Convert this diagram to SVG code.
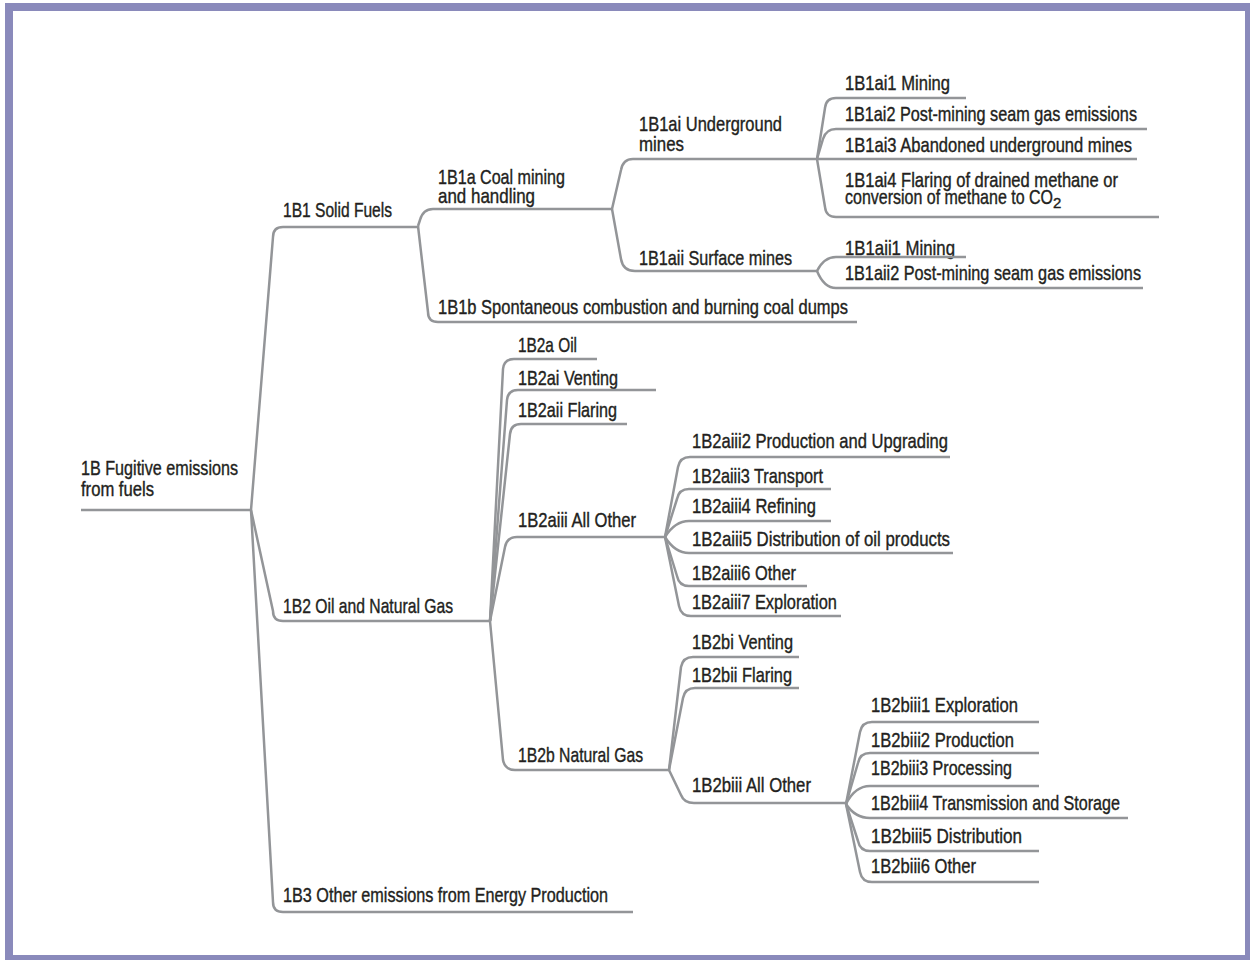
<svg xmlns="http://www.w3.org/2000/svg" width="1250" height="960" viewBox="0 0 1250 960">
<style>
.t{font-family:"Liberation Sans Narrow","Liberation Sans",sans-serif;font-size:21px;fill:#231f20;stroke:#231f20;stroke-width:0.4}
.u{fill:none;stroke:#939598;stroke-width:2.5;stroke-linecap:butt}
.c{fill:none;stroke:#939598;stroke-width:2.5;stroke-linejoin:round}
.s{font-size:15px}
</style>
<rect x="9" y="7" width="1240" height="952" fill="#ffffff" stroke="#8a8abb" stroke-width="8"/>
<g id="connectors">
<path class="c" d="M251,510 L273,237 Q273,227 283,227"/>
<path class="c" d="M251,510 L273,611 Q273,621 283,621"/>
<path class="c" d="M251,510 L273,902 Q273,912 283,912"/>
<path class="c" d="M418,226 L420,220 Q423,209 433,209"/>
<path class="c" d="M418,226 L428,312 Q428,322 438,322"/>
<path class="c" d="M612,209 L621,170 Q623,159 633,159"/>
<path class="c" d="M612,209 L621,259 Q623,271 635,271"/>
<path class="c" d="M817,159 L825,108 Q826,98 836,98"/>
<path class="c" d="M817,159 L823,139 Q826,129 836,129"/>
<path class="c" d="M817,159 L825,207 Q826,217 836,217"/>
<path class="c" d="M817,271 Q824,257 836,257"/>
<path class="c" d="M817,271 Q824,288 836,288"/>
<path class="c" d="M490,621 L503,369 Q504,359 514,359"/>
<path class="c" d="M490,621 L507,400 Q508,390 518,390"/>
<path class="c" d="M490,621 L510,434 Q511,424 521,424"/>
<path class="c" d="M490,621 L505,547 Q507,537 517,537"/>
<path class="c" d="M490,621 L503,760 Q505,770 515,770"/>
<path class="c" d="M665,537 L678,467 Q680,457 690,457"/>
<path class="c" d="M665,537 L677,499 Q679,489 689,489"/>
<path class="c" d="M665,537 Q675,521 689,521"/>
<path class="c" d="M665,537 Q675,553 689,553"/>
<path class="c" d="M665,537 L677,576 Q679,586 689,586"/>
<path class="c" d="M665,537 L679,606 Q681,616 691,616"/>
<path class="c" d="M669,770 L681,667 Q683,657 693,657"/>
<path class="c" d="M669,770 L683,698 Q685,688 695,688"/>
<path class="c" d="M669,770 L681,795 Q684,803 694,803"/>
<path class="c" d="M846,804 L860,732 Q862,722 872,722"/>
<path class="c" d="M846,804 L858,763 Q860,753 870,753"/>
<path class="c" d="M846,804 Q855,786 870,786"/>
<path class="c" d="M846,804 Q855,818 870,818"/>
<path class="c" d="M846,804 L858,841 Q860,851 870,851"/>
<path class="c" d="M846,804 L860,872 Q862,882 872,882"/>
</g>
<g id="n-1B">
<text class="t" x="81" y="475" textLength="157" lengthAdjust="spacingAndGlyphs">1B Fugitive emissions</text>
<text class="t" x="81" y="496" textLength="73" lengthAdjust="spacingAndGlyphs">from fuels</text>
<path class="u" d="M81,510 H251"/>
</g>
<g id="n-1B1">
<text class="t" x="283" y="217" textLength="109" lengthAdjust="spacingAndGlyphs">1B1 Solid Fuels</text>
<path class="u" d="M283,227 H418"/>
</g>
<g id="n-1B1a">
<text class="t" x="438" y="184" textLength="127" lengthAdjust="spacingAndGlyphs">1B1a Coal mining</text>
<text class="t" x="438" y="203" textLength="97" lengthAdjust="spacingAndGlyphs">and handling</text>
<path class="u" d="M433,209 H612"/>
</g>
<g id="n-1B1ai">
<text class="t" x="639" y="131" textLength="143" lengthAdjust="spacingAndGlyphs">1B1ai Underground</text>
<text class="t" x="639" y="151" textLength="45" lengthAdjust="spacingAndGlyphs">mines</text>
<path class="u" d="M633,159 H817"/>
</g>
<g id="n-1B1ai1">
<text class="t" x="845" y="90" textLength="105" lengthAdjust="spacingAndGlyphs">1B1ai1 Mining</text>
<path class="u" d="M836,98 H966"/>
</g>
<g id="n-1B1ai2">
<text class="t" x="845" y="121" textLength="292" lengthAdjust="spacingAndGlyphs">1B1ai2 Post-mining seam gas emissions</text>
<path class="u" d="M836,129 H1147"/>
</g>
<g id="n-1B1ai3">
<text class="t" x="845" y="152" textLength="287" lengthAdjust="spacingAndGlyphs">1B1ai3 Abandoned underground mines</text>
<path class="u" d="M817,159 H1137"/>
</g>
<g id="n-1B1ai4">
<text class="t" x="845" y="187" textLength="273" lengthAdjust="spacingAndGlyphs">1B1ai4 Flaring of drained methane or</text>
<text class="t" x="845" y="204"><tspan textLength="208" lengthAdjust="spacingAndGlyphs">conversion of methane to CO</tspan><tspan class="s" dy="4">2</tspan></text>
<path class="u" d="M836,217 H1159"/>
</g>
<g id="n-1B1aii">
<text class="t" x="639" y="265" textLength="153" lengthAdjust="spacingAndGlyphs">1B1aii Surface mines</text>
<path class="u" d="M635,271 H817"/>
</g>
<g id="n-1B1aii1">
<text class="t" x="845" y="255" textLength="110" lengthAdjust="spacingAndGlyphs">1B1aii1 Mining</text>
<path class="u" d="M836,257 H966"/>
</g>
<g id="n-1B1aii2">
<text class="t" x="845" y="280" textLength="296" lengthAdjust="spacingAndGlyphs">1B1aii2 Post-mining seam gas emissions</text>
<path class="u" d="M836,288 H1143"/>
</g>
<g id="n-1B1b">
<text class="t" x="438" y="314" textLength="410" lengthAdjust="spacingAndGlyphs">1B1b Spontaneous combustion and burning coal dumps</text>
<path class="u" d="M438,322 H857"/>
</g>
<g id="n-1B2">
<text class="t" x="283" y="613" textLength="170" lengthAdjust="spacingAndGlyphs">1B2 Oil and Natural Gas</text>
<path class="u" d="M283,621 H490"/>
</g>
<g id="n-1B2a">
<text class="t" x="518" y="352" textLength="59" lengthAdjust="spacingAndGlyphs">1B2a Oil</text>
<path class="u" d="M514,359 H597"/>
</g>
<g id="n-1B2ai">
<text class="t" x="518" y="385" textLength="100" lengthAdjust="spacingAndGlyphs">1B2ai Venting</text>
<path class="u" d="M518,390 H656"/>
</g>
<g id="n-1B2aii">
<text class="t" x="518" y="417" textLength="99" lengthAdjust="spacingAndGlyphs">1B2aii Flaring</text>
<path class="u" d="M521,424 H627"/>
</g>
<g id="n-1B2aiii">
<text class="t" x="518" y="527" textLength="118" lengthAdjust="spacingAndGlyphs">1B2aiii All Other</text>
<path class="u" d="M517,537 H665"/>
</g>
<g id="n-1B2aiii2">
<text class="t" x="692" y="448" textLength="256" lengthAdjust="spacingAndGlyphs">1B2aiii2 Production and Upgrading</text>
<path class="u" d="M690,457 H950"/>
</g>
<g id="n-1B2aiii3">
<text class="t" x="692" y="483" textLength="131" lengthAdjust="spacingAndGlyphs">1B2aiii3 Transport</text>
<path class="u" d="M689,489 H831"/>
</g>
<g id="n-1B2aiii4">
<text class="t" x="692" y="513" textLength="124" lengthAdjust="spacingAndGlyphs">1B2aiii4 Refining</text>
<path class="u" d="M689,521 H831"/>
</g>
<g id="n-1B2aiii5">
<text class="t" x="692" y="546" textLength="258" lengthAdjust="spacingAndGlyphs">1B2aiii5 Distribution of oil products</text>
<path class="u" d="M689,553 H953"/>
</g>
<g id="n-1B2aiii6">
<text class="t" x="692" y="580" textLength="104" lengthAdjust="spacingAndGlyphs">1B2aiii6 Other</text>
<path class="u" d="M689,586 H807"/>
</g>
<g id="n-1B2aiii7">
<text class="t" x="692" y="609" textLength="145" lengthAdjust="spacingAndGlyphs">1B2aiii7 Exploration</text>
<path class="u" d="M691,616 H841"/>
</g>
<g id="n-1B2b">
<text class="t" x="518" y="762" textLength="125" lengthAdjust="spacingAndGlyphs">1B2b Natural Gas</text>
<path class="u" d="M515,770 H669"/>
</g>
<g id="n-1B2bi">
<text class="t" x="692" y="649" textLength="101" lengthAdjust="spacingAndGlyphs">1B2bi Venting</text>
<path class="u" d="M693,657 H799"/>
</g>
<g id="n-1B2bii">
<text class="t" x="692" y="682" textLength="100" lengthAdjust="spacingAndGlyphs">1B2bii Flaring</text>
<path class="u" d="M695,688 H799"/>
</g>
<g id="n-1B2biii">
<text class="t" x="692" y="792" textLength="119" lengthAdjust="spacingAndGlyphs">1B2biii All Other</text>
<path class="u" d="M694,803 H846"/>
</g>
<g id="n-1B2biii1">
<text class="t" x="871" y="712" textLength="147" lengthAdjust="spacingAndGlyphs">1B2biii1 Exploration</text>
<path class="u" d="M872,722 H1039"/>
</g>
<g id="n-1B2biii2">
<text class="t" x="871" y="747" textLength="143" lengthAdjust="spacingAndGlyphs">1B2biii2 Production</text>
<path class="u" d="M870,753 H1039"/>
</g>
<g id="n-1B2biii3">
<text class="t" x="871" y="775" textLength="141" lengthAdjust="spacingAndGlyphs">1B2biii3 Processing</text>
<path class="u" d="M870,786 H1039"/>
</g>
<g id="n-1B2biii4">
<text class="t" x="871" y="810" textLength="249" lengthAdjust="spacingAndGlyphs">1B2biii4 Transmission and Storage</text>
<path class="u" d="M870,818 H1128"/>
</g>
<g id="n-1B2biii5">
<text class="t" x="871" y="843" textLength="151" lengthAdjust="spacingAndGlyphs">1B2biii5 Distribution</text>
<path class="u" d="M870,851 H1039"/>
</g>
<g id="n-1B2biii6">
<text class="t" x="871" y="873" textLength="105" lengthAdjust="spacingAndGlyphs">1B2biii6 Other</text>
<path class="u" d="M872,882 H1039"/>
</g>
<g id="n-1B3">
<text class="t" x="283" y="902" textLength="325" lengthAdjust="spacingAndGlyphs">1B3 Other emissions from Energy Production</text>
<path class="u" d="M283,912 H633"/>
</g>
</svg>
